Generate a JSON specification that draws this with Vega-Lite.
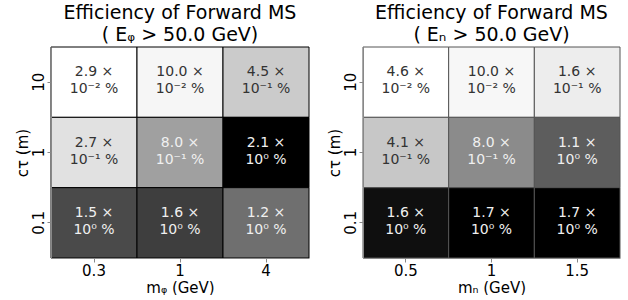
{
  "$schema": "https://vega.github.io/schema/vega-lite/v6.json",
  "background": "white",
  "padding": {"left": 15, "top": 3, "right": 0, "bottom": 0},
  "spacing": 17,
  "config": {
    "font": "DejaVu Sans",
    "view": {"stroke": null},
    "axis": {
      "labelFont": "DejaVu Sans", "titleFont": "DejaVu Sans",
      "labelFontSize": 15, "titleFontSize": 15,
      "labelColor": "#000", "titleColor": "#000",
      "titleFontWeight": "normal",
      "domainColor": "#888", "tickColor": "#888", "tickSize": 4, "labelPadding": 1,
      "grid": false
    },
    "title": {"font": "DejaVu Sans", "fontSize": 19, "fontWeight": "normal", "color": "#000",
      "subtitleFont": "DejaVu Sans", "subtitleFontSize": 19, "subtitleColor": "#000", "subtitlePadding": 0, "offset": 2}
  },
  "resolve": {"scale": {"color": "independent"}},
  "hconcat": [
    {
      "title": {"text": "Efficiency of Forward MS", "subtitle": "( Eᵩ > 50.0 GeV)"},
      "width": 258, "height": 211,
      "data": {"values": [
        {"m": "0.3", "ct": "10", "v": 0.029, "label": "2.9 ×\n10⁻² %"},
        {"m": "1", "ct": "10", "v": 0.100, "label": "10.0 ×\n10⁻² %"},
        {"m": "4", "ct": "10", "v": 0.45, "label": "4.5 ×\n10⁻¹ %"},
        {"m": "0.3", "ct": "1", "v": 0.27, "label": "2.7 ×\n10⁻¹ %"},
        {"m": "1", "ct": "1", "v": 0.80, "label": "8.0 ×\n10⁻¹ %"},
        {"m": "4", "ct": "1", "v": 2.1, "label": "2.1 ×\n10⁰ %"},
        {"m": "0.3", "ct": "0.1", "v": 1.5, "label": "1.5 ×\n10⁰ %"},
        {"m": "1", "ct": "0.1", "v": 1.6, "label": "1.6 ×\n10⁰ %"},
        {"m": "4", "ct": "0.1", "v": 1.2, "label": "1.2 ×\n10⁰ %"}
      ]},
      "encoding": {
        "x": {"field": "m", "type": "ordinal", "sort": ["0.3", "1", "4"], "title": "mᵩ (GeV)",
          "axis": {"labelAngle": 0, "titlePadding": 2}},
        "y": {"field": "ct", "type": "ordinal", "sort": ["10", "1", "0.1"], "title": "cτ (m)",
          "axis": {"labelAngle": -90, "labelAlign": "center", "labelBaseline": "bottom", "titlePadding": 1}}
      },
      "layer": [
        {"mark": {"type": "rect", "stroke": "#000", "strokeWidth": 1},
         "encoding": {"color": {"field": "v", "type": "quantitative", "legend": null,
           "scale": {"range": ["#ffffff", "#000000"], "interpolate": "rgb", "zero": false}}}},
        {"mark": {"type": "text", "lineBreak": "\n", "fontSize": 14, "lineHeight": 17, "baseline": "middle", "dy": -10},
         "encoding": {"text": {"field": "label"},
           "color": {"condition": {"test": "datum.v > 0.6", "value": "#f0f0f0"}, "value": "#333333"}}}
      ]
    },
    {
      "title": {"text": "Efficiency of Forward MS", "subtitle": "( Eₙ > 50.0 GeV)"},
      "width": 257, "height": 211,
      "data": {"values": [
        {"m": "0.5", "ct": "10", "v": 0.046, "label": "4.6 ×\n10⁻² %"},
        {"m": "1", "ct": "10", "v": 0.100, "label": "10.0 ×\n10⁻² %"},
        {"m": "1.5", "ct": "10", "v": 0.16, "label": "1.6 ×\n10⁻¹ %"},
        {"m": "0.5", "ct": "1", "v": 0.41, "label": "4.1 ×\n10⁻¹ %"},
        {"m": "1", "ct": "1", "v": 0.80, "label": "8.0 ×\n10⁻¹ %"},
        {"m": "1.5", "ct": "1", "v": 1.1, "label": "1.1 ×\n10⁰ %"},
        {"m": "0.5", "ct": "0.1", "v": 1.6, "label": "1.6 ×\n10⁰ %"},
        {"m": "1", "ct": "0.1", "v": 1.7, "label": "1.7 ×\n10⁰ %"},
        {"m": "1.5", "ct": "0.1", "v": 1.7, "label": "1.7 ×\n10⁰ %"}
      ]},
      "encoding": {
        "x": {"field": "m", "type": "ordinal", "sort": ["0.5", "1", "1.5"], "title": "mₙ (GeV)",
          "axis": {"labelAngle": 0, "titlePadding": 2}},
        "y": {"field": "ct", "type": "ordinal", "sort": ["10", "1", "0.1"], "title": "cτ (m)",
          "axis": {"labelAngle": -90, "labelAlign": "center", "labelBaseline": "bottom", "titlePadding": 1}}
      },
      "layer": [
        {"mark": {"type": "rect", "stroke": "#555", "strokeWidth": 1},
         "encoding": {"color": {"field": "v", "type": "quantitative", "legend": null,
           "scale": {"range": ["#ffffff", "#000000"], "interpolate": "rgb", "zero": false}}}},
        {"mark": {"type": "text", "lineBreak": "\n", "fontSize": 14, "lineHeight": 17, "baseline": "middle", "dy": -10},
         "encoding": {"text": {"field": "label"},
           "color": {"condition": {"test": "datum.v > 0.6", "value": "#f0f0f0"}, "value": "#333333"}}}
      ]
    }
  ]
}
